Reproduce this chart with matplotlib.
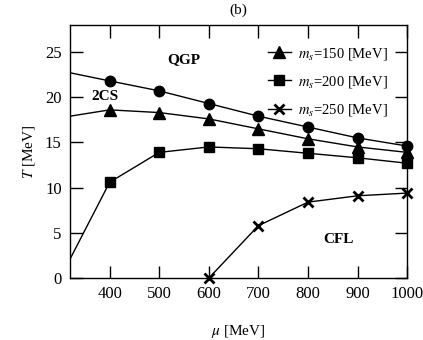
import numpy as np
import matplotlib
matplotlib.use('Agg')
import matplotlib.pyplot as plt

plt.rcParams['font.family'] = ['Liberation Serif', 'DejaVu Serif']
plt.rcParams['mathtext.fontset'] = 'stix'

# QGP boundary (circles)
mu_qgp = [320, 400, 500, 600, 700, 800, 900, 1000]
T_qgp = [22.7, 21.8, 20.7, 19.3, 17.9, 16.7, 15.5, 14.6]

# m_s = 150 MeV (triangles)
mu_150 = [320, 400, 500, 600, 700, 800, 900, 1000]
T_150 = [17.9, 18.6, 18.3, 17.6, 16.5, 15.4, 14.5, 13.9]

# m_s = 200 MeV (squares)
mu_200 = [320, 400, 500, 600, 700, 800, 900, 1000]
T_200 = [2.1, 10.6, 13.9, 14.5, 14.3, 13.8, 13.3, 12.7]

# m_s = 250 MeV (crosses)
mu_250 = [600, 700, 800, 900, 1000]
T_250 = [0.0, 5.8, 8.4, 9.1, 9.4]

fig = plt.figure(figsize=(4.23, 3.40), dpi=100)
ax = fig.add_axes([0.1655, 0.182, 0.797, 0.745])

# markers only at the grid points, lines through everything
def draw(mu, T, marker, ms, label=None):
    ax.plot(mu, T, color='black', lw=1.0)
    pts = [(m, t) for m, t in zip(mu, T) if m >= 400]
    ax.plot([p[0] for p in pts], [p[1] for p in pts], linestyle='none',
            marker=marker, color='black', ms=ms, mew=2.0 if marker == 'x' else 1.0,
            clip_on=False)
    if label:
        ax.plot([], [], color='black', lw=1.0, marker=marker, ms=ms,
                mew=2.0 if marker == 'x' else 1.0, label=label)

draw(mu_qgp, T_qgp, 'o', 7.5)
draw(mu_150, T_150, '^', 8, r'$m_s$=150 [MeV]')
draw(mu_200, T_200, 's', 7, r'$m_s$=200 [MeV]')
draw(mu_250, T_250, 'x', 7.5, r'$m_s$=250 [MeV]')

ax.set_xlim(320, 1000)
ax.set_ylim(0, 28)
ax.set_xticks([400, 500, 600, 700, 800, 900, 1000])
ax.set_yticks([0, 5, 10, 15, 20, 25])
ax.tick_params(direction='in', length=9, width=1, top=True, right=True,
               labelsize=12, pad=6)
for s in ax.spines.values():
    s.set_linewidth(1.0)

ax.text(550, 24.1, 'QGP', fontsize=11, fontweight='bold', ha='center', va='center')
ax.text(390, 20.1, '2CS', fontsize=11, fontweight='bold', ha='center', va='center')
ax.text(862, 4.25, 'CFL', fontsize=11, fontweight='bold', ha='center', va='center')

ax.set_title('(b)', fontsize=11, pad=8)
ax.set_xlabel(r'$\mu$ [MeV]', fontsize=11, labelpad=15)
ax.set_ylabel(r'$T$ [MeV]', fontsize=11, labelpad=6)

ax.legend(loc='upper right', bbox_to_anchor=(0.943, 0.918), frameon=False,
          fontsize=10.5, handlelength=1.6, handletextpad=0.5, labelspacing=0.85,
          borderpad=0.0, borderaxespad=0.0)

fig.savefig('out.png', dpi=100)
